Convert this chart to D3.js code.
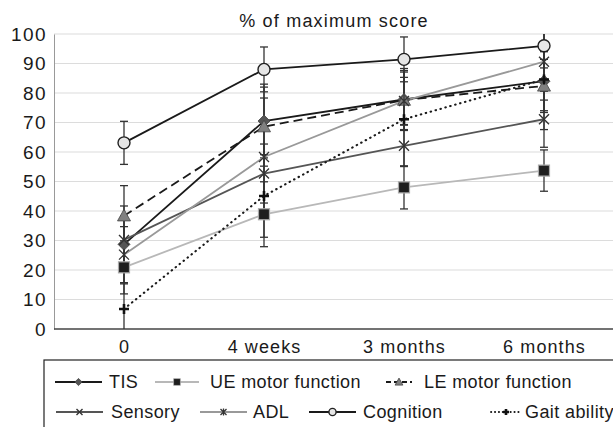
<!DOCTYPE html>
<html>
<head>
<meta charset="utf-8">
<script src="https://cdn.jsdelivr.net/npm/d3@7"></script>
<style>
  body { margin: 0; background: #fff; }
  text { font-family: "Liberation Sans", Arial, sans-serif; fill: #1a1a1a; }
</style>
</head>
<body>
<svg id="chart" width="613" height="427"></svg>
<script>
const categories = ['0', '4 weeks', '3 months', '6 months'];
const yTicks = [0, 10, 20, 30, 40, 50, 60, 70, 80, 90, 100];

const tis = [28.7, 70.5, 77.8, 84];
const ueMotor = [20.9, 38.9, 48, 53.7];
const leMotor = [38.4, 68.6, 77.6, 82.4];
const sensory = [30.2, 52.7, 62.1, 71.1];
const adl = [25.2, 58.3, 77.3, 90.6];
const cognition = [63.1, 88, 91.4, 96];
const gait = [6.8, 45.1, 71.1, 84.6];

// error bar half-widths (read from the whisker caps)
const tisErr = [13, 12.5, 10.5, 10];
const ueErr = [9, 11, 7.3, 7];
const leErr = [10.2, 13.4, 10, 9];
const sensoryErr = [8, 10, 7, 9.5];
const adlErr = [9.5, 20, 8, 13];
const cognitionErr = [7.3, 7.6, 7.6, 7.5];
const gaitErr = [8.5, 14, 16, 17];

const series = [
  { name: 'TIS', values: tis, err: tisErr, stroke: '#1a1a1a', dash: null, marker: 'diamond' },
  { name: 'UE motor function', values: ueMotor, err: ueErr, stroke: '#b8b8b8', dash: null, marker: 'square' },
  { name: 'LE motor function', values: leMotor, err: leErr, stroke: '#1a1a1a', dash: '9,5', marker: 'triangle' },
  { name: 'Sensory', values: sensory, err: sensoryErr, stroke: '#555', dash: null, marker: 'x' },
  { name: 'ADL', values: adl, err: adlErr, stroke: '#999', dash: null, marker: 'star' },
  { name: 'Cognition', values: cognition, err: cognitionErr, stroke: '#1a1a1a', dash: null, marker: 'circle' },
  { name: 'Gait ability', values: gait, err: gaitErr, stroke: '#1a1a1a', dash: '0.5,4.6', marker: 'plus' }
];

const svg = d3.select('#chart');
const plotLeft = 54, plotRight = 613, plotTop = 34, plotBottom = 329;

const x = d3.scalePoint().domain(categories).range([124, 544]);
const y = d3.scaleLinear().domain([0, 100]).range([plotBottom, plotTop]);

// grid
svg.append('g').selectAll('line')
  .data(yTicks.filter(d => d > 0))
  .enter().append('line')
  .attr('x1', plotLeft).attr('x2', plotRight)
  .attr('y1', d => y(d)).attr('y2', d => y(d))
  .attr('stroke', '#dcdcdc').attr('stroke-width', 1.2);

// y axis
const yAxis = svg.append('g')
  .attr('transform', `translate(${plotLeft},0)`)
  .call(d3.axisLeft(y).tickValues(yTicks).tickSize(0).tickPadding(7));
yAxis.select('.domain').attr('stroke', '#999').attr('stroke-width', 1);
yAxis.selectAll('text')
  .attr('font-size', 19).attr('letter-spacing', 1.4).attr('fill', '#1a1a1a')
  .attr('font-family', '"Liberation Sans", Arial, sans-serif');

// x axis
const xAxis = svg.append('g')
  .attr('transform', `translate(0,${plotBottom})`)
  .call(d3.axisBottom(x).tickSize(0).tickPadding(11));
xAxis.select('.domain').attr('d', `M${plotLeft},0H${plotRight}`).attr('stroke', '#444').attr('stroke-width', 1.5);
xAxis.selectAll('text')
  .attr('font-size', 18).attr('letter-spacing', 1.1).attr('fill', '#1a1a1a')
  .attr('font-family', '"Liberation Sans", Arial, sans-serif');

// title
svg.append('text')
  .attr('x', 334).attr('y', 27)
  .attr('text-anchor', 'middle')
  .attr('font-size', 18).attr('letter-spacing', 1.2)
  .text('% of maximum score');

// error bars
const clampV = v => Math.max(0, Math.min(100, v));
const errG = svg.append('g');
series.forEach(s => {
  s.values.forEach((v, i) => {
    const cx = x(categories[i]);
    const hi = v + s.err[i], lo = v - s.err[i];
    errG.append('line')
      .attr('x1', cx).attr('x2', cx)
      .attr('y1', y(clampV(hi))).attr('y2', y(clampV(lo)))
      .attr('stroke', '#333').attr('stroke-width', 1.3);
    [hi, lo].forEach(e => {
      if (e > 100 || e < 0) return;
      errG.append('line')
        .attr('x1', cx - 4).attr('x2', cx + 4)
        .attr('y1', y(e)).attr('y2', y(e))
        .attr('stroke', '#333').attr('stroke-width', 1.3);
    });
  });
});

// lines
const line = d3.line()
  .x((d, i) => x(categories[i]))
  .y(d => y(d));
series.forEach(s => {
  const dotted = s.name === 'Gait ability';
  svg.append('path')
    .datum(s.values)
    .attr('fill', 'none')
    .attr('stroke', s.stroke)
    .attr('stroke-width', dotted ? 2.1 : 1.8)
    .attr('stroke-dasharray', s.dash)
    .attr('stroke-linecap', dotted ? 'round' : 'butt')
    .attr('d', line);
});

function drawMarker(g, type, cx, cy, k) {
  if (type === 'diamond') {
    const r = 6 * k;
    g.append('path')
      .attr('d', `M${cx},${cy - r}L${cx + r},${cy}L${cx},${cy + r}L${cx - r},${cy}Z`)
      .attr('fill', '#555').attr('stroke', '#444').attr('stroke-width', 0.8);
  } else if (type === 'square') {
    const r = 5.5 * k;
    g.append('rect')
      .attr('x', cx - r).attr('y', cy - r).attr('width', 2 * r).attr('height', 2 * r)
      .attr('fill', '#1e1e1e').attr('stroke', '#aaa').attr('stroke-width', 1.2 * k);
  } else if (type === 'triangle') {
    const r = 6.5 * k;
    g.append('path')
      .attr('d', `M${cx},${cy - r}L${cx + r},${cy + r * 0.8}L${cx - r},${cy + r * 0.8}Z`)
      .attr('fill', '#808080').attr('stroke', '#444').attr('stroke-width', 0.8);
  } else if (type === 'x') {
    const r = 5 * k;
    g.append('path')
      .attr('d', `M${cx - r},${cy - r}L${cx + r},${cy + r}M${cx - r},${cy + r}L${cx + r},${cy - r}`)
      .attr('stroke', '#333').attr('stroke-width', 1.4).attr('fill', 'none');
  } else if (type === 'star') {
    const r = 5 * k;
    g.append('path')
      .attr('d', `M${cx - r},${cy - r}L${cx + r},${cy + r}M${cx - r},${cy + r}L${cx + r},${cy - r}M${cx},${cy - r * 1.2}L${cx},${cy + r * 1.2}`)
      .attr('stroke', '#333').attr('stroke-width', 1.3).attr('fill', 'none');
  } else if (type === 'circle') {
    g.append('circle')
      .attr('cx', cx).attr('cy', cy).attr('r', 6 * k)
      .attr('fill', '#e6e6e6').attr('stroke', '#222').attr('stroke-width', 1.4);
  } else if (type === 'plus') {
    const r = 5 * k;
    g.append('path')
      .attr('d', `M${cx - r},${cy}L${cx + r},${cy}M${cx},${cy - r}L${cx},${cy + r}`)
      .attr('stroke', '#111').attr('stroke-width', 2.6).attr('fill', 'none');
  }
}

// markers
const markG = svg.append('g');
series.forEach(s => {
  s.values.forEach((v, i) => drawMarker(markG, s.marker, x(categories[i]), y(v), 1));
});

// legend
const legend = svg.append('g');
legend.append('rect')
  .attr('x', 44).attr('y', 360).attr('width', 600).attr('height', 100)
  .attr('fill', 'none').attr('stroke', '#222').attr('stroke-width', 1.2);

const legendPos = [
  { x: 55, y: 382, tx: 109, len: 47 },
  { x: 155, y: 382, tx: 210, len: 44 },
  { x: 386, y: 382, tx: 424, len: 26 },
  { x: 56, y: 412, tx: 111, len: 47 },
  { x: 200, y: 412, tx: 253, len: 47 },
  { x: 309, y: 412, tx: 363, len: 47 },
  { x: 491, y: 412, tx: 525, len: 30 }
];

series.forEach((s, i) => {
  const p = legendPos[i];
  legend.append('line')
    .attr('x1', p.x).attr('x2', p.x + p.len)
    .attr('y1', p.y).attr('y2', p.y)
    .attr('stroke', s.stroke).attr('stroke-width', 1.8)
    .attr('stroke-linecap', s.name === 'Gait ability' ? 'round' : 'butt')
    .attr('stroke-dasharray', s.name === 'Gait ability' ? '0.3,3.6' : (s.dash ? '5,3' : null));
  drawMarker(legend, s.marker, p.x + p.len / 2, p.y, 0.6);
  legend.append('text')
    .attr('x', p.tx).attr('y', p.y)
    .attr('dy', '0.36em')
    .attr('font-size', 18).attr('letter-spacing', 0.4)
    .text(s.name);
});
</script>
</body>
</html>
